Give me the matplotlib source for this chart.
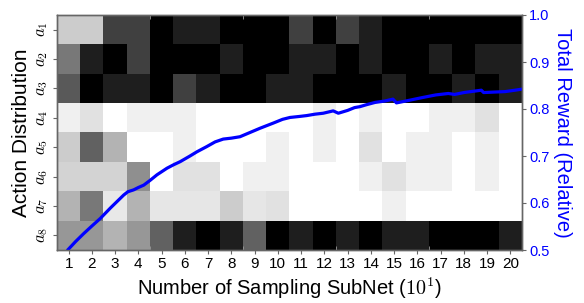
import numpy as np
import matplotlib
matplotlib.use("Agg")
import matplotlib.pyplot as plt

# --- Data ---
# grey level of each heatmap cell (0 = black, 1 = white), rows a1..a8, cols 1..20
row_a1 = [0.80, 0.80, 0.25, 0.25, 0.00, 0.12, 0.12, 0.00, 0.00, 0.00,
          0.25, 0.00, 0.25, 0.12, 0.00, 0.00, 0.00, 0.00, 0.00, 0.00]
row_a2 = [0.47, 0.12, 0.00, 0.25, 0.00, 0.00, 0.00, 0.12, 0.00, 0.00,
          0.12, 0.12, 0.00, 0.12, 0.00, 0.00, 0.12, 0.00, 0.12, 0.12]
row_a3 = [0.35, 0.00, 0.12, 0.12, 0.00, 0.25, 0.12, 0.00, 0.00, 0.12,
          0.12, 0.00, 0.00, 0.00, 0.12, 0.00, 0.00, 0.12, 0.00, 0.12]
row_a4 = [0.94, 0.88, 1.00, 0.94, 0.94, 0.94, 1.00, 1.00, 1.00, 1.00,
          1.00, 0.94, 1.00, 0.94, 1.00, 1.00, 0.94, 0.94, 0.88, 1.00]
row_a5 = [0.80, 0.38, 0.70, 1.00, 1.00, 0.94, 1.00, 1.00, 1.00, 0.94,
          1.00, 0.94, 1.00, 0.88, 1.00, 0.94, 0.94, 1.00, 0.94, 1.00]
row_a6 = [0.83, 0.83, 0.83, 0.56, 1.00, 0.88, 0.88, 1.00, 0.94, 0.94,
          1.00, 1.00, 1.00, 0.94, 0.88, 0.94, 0.94, 1.00, 0.94, 1.00]
row_a7 = [0.70, 0.47, 0.91, 0.70, 0.90, 0.90, 0.90, 0.80, 0.90, 0.88,
          1.00, 1.00, 1.00, 1.00, 0.94, 1.00, 1.00, 1.00, 1.00, 1.00]
row_a8 = [0.59, 0.59, 0.70, 0.59, 0.38, 0.12, 0.00, 0.12, 0.38, 0.00,
          0.12, 0.00, 0.12, 0.00, 0.12, 0.12, 0.00, 0.00, 0.00, 0.12]

action_labels = [r"$a_1$", r"$a_2$", r"$a_3$", r"$a_4$",
                 r"$a_5$", r"$a_6$", r"$a_7$", r"$a_8$"]
subnet_ticks = list(range(1, 21))

# relative total reward along the sampling axis
reward_x = [0.96, 1.30, 1.65, 2.00, 2.36, 2.79, 3.10, 3.37, 3.55, 3.80,
            4.00, 4.23, 4.50, 4.80, 5.23, 5.50, 5.80, 6.22, 6.52, 6.94,
            7.30, 7.65, 8.00, 8.37, 8.80, 9.23, 9.80, 10.20, 10.52, 10.90,
            11.24, 11.60, 11.95, 12.38, 12.60, 13.00, 13.30, 13.53, 13.80, 14.18,
            14.60, 14.95, 15.10, 15.60, 16.18, 16.80, 17.33, 17.60, 18.00, 18.60,
            18.75, 18.85, 19.30, 19.77, 20.20, 20.60]
reward_y = [0.500, 0.518, 0.535, 0.551, 0.567, 0.589, 0.604, 0.617, 0.624, 0.628,
            0.633, 0.638, 0.648, 0.660, 0.674, 0.681, 0.688, 0.700, 0.709, 0.720,
            0.730, 0.736, 0.738, 0.741, 0.750, 0.759, 0.770, 0.778, 0.782, 0.784,
            0.786, 0.789, 0.791, 0.796, 0.791, 0.797, 0.803, 0.805, 0.809, 0.814,
            0.817, 0.821, 0.813, 0.818, 0.824, 0.830, 0.833, 0.831, 0.835, 0.839,
            0.840, 0.835, 0.836, 0.837, 0.840, 0.843]

plt.rcParams["font.family"] = ["Liberation Sans", "DejaVu Sans"]
plt.rcParams["mathtext.fontset"] = "cm"

grid = np.array([row_a1, row_a2, row_a3, row_a4,
                 row_a5, row_a6, row_a7, row_a8])
spine_col = "#666666"

fig = plt.figure(figsize=(5.84, 3.03), dpi=100)
ax = fig.add_axes([57 / 584, 1 - 250 / 303, 465 / 584, 235 / 303])
ax.imshow(grid, cmap="gray", vmin=0, vmax=1, aspect="auto",
          interpolation="nearest",
          extent=[0.5, len(subnet_ticks) + 0.5, len(action_labels) + 0.5, 0.5])
ax.set_xlim(0.5, 20.5)
ax.set_ylim(8.5, 0.5)

ax.set_xticks(subnet_ticks)
ax.set_xticklabels([str(t) for t in subnet_ticks], fontsize=11)
ax.set_yticks(range(1, 9))
ax.set_yticklabels(action_labels, fontsize=12, rotation=90, va="center")
ax.tick_params(axis="both", length=3, width=0.8, color=spine_col, pad=2)
ax.set_xticks([4.5, 8.5, 12.5, 16.5], minor=True)
ax.tick_params(axis="x", which="minor", direction="in", length=3,
               color="#999999", top=True, bottom=True)
for s in ax.spines.values():
    s.set_color(spine_col)
    s.set_linewidth(1.0)

ax.set_xlabel(r"Number of Sampling SubNet ($10^1$)", fontsize=14.5, labelpad=3)
ax.set_ylabel("Action Distribution", fontsize=15, labelpad=3)

ax2 = ax.twinx()
ax2.plot(reward_x, reward_y, color="#0000ff", lw=2.3, solid_capstyle="round")
ax2.set_ylim(0.5, 1.0)
ax2.set_yticks([0.5, 0.6, 0.7, 0.8, 0.9, 1.0])
ax2.set_yticklabels(["0.5", "0.6", "0.7", "0.8", "0.9", "1.0"],
                    fontsize=10.5, color="#0000ff")
ax2.tick_params(axis="y", length=3, width=0.8, color=spine_col, pad=2)
ax2.set_ylabel("Total Reward (Relative)", fontsize=14.5, color="#0000ff",
               rotation=270, labelpad=16)
for s in ax2.spines.values():
    s.set_color(spine_col)
    s.set_linewidth(1.0)

fig.savefig("out.png", dpi=100)
